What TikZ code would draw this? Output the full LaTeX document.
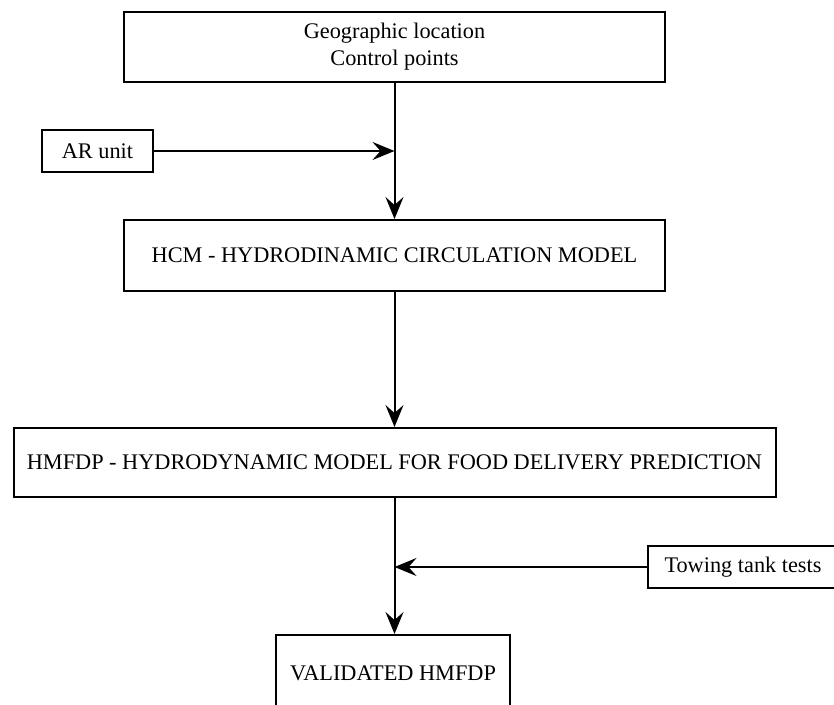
\documentclass[tikz,border=0pt]{standalone}
\usepackage{fontspec}
\setmainfont{Liberation Serif}
\usetikzlibrary{arrows.meta}
\begin{document}
\begin{tikzpicture}[x=1pt,y=-1pt,
  box/.style={draw=black,line width=2pt,inner sep=0pt,align=center,
    font=\fontsize{22.3}{27}\selectfont},
  arr/.style={line width=2pt,-{Stealth[length=22pt,width=18pt,inset=8pt]}}]
\useasboundingbox (0,0) rectangle (834,704);
\node[box,minimum width=541pt,minimum height=70pt] (top) at (394.5,47) {Geographic location\\Control points};
\node[box,minimum width=111pt,minimum height=42pt] (ar) at (97.5,151) {AR unit};
\node[box,minimum width=541pt,minimum height=71pt] (hcm) at (394.5,255.5) {HCM - HYDRODINAMIC CIRCULATION MODEL};
\node[box,minimum width=762pt,minimum height=69pt] (hmfdp) at (394.5,462.5) {HMFDP - HYDRODYNAMIC MODEL FOR FOOD DELIVERY PREDICTION};
\node[box,minimum width=190pt,minimum height=42pt] (tow) at (743,567) {Towing tank tests};
\node[box,minimum width=234pt,minimum height=76pt] (val) at (393,673) {VALIDATED HMFDP};
\draw[arr] (top.south) -- (hcm.north);
\draw[arr] (ar.east) -- (ar.east -| top.south);
\draw[arr] (hcm.south) -- (hmfdp.north);
\draw[arr] (hmfdp.south) -- (hmfdp.south |- val.north);
\draw[arr] (tow.west) -- (tow.west -| hmfdp.south);
\end{tikzpicture}
\end{document}
